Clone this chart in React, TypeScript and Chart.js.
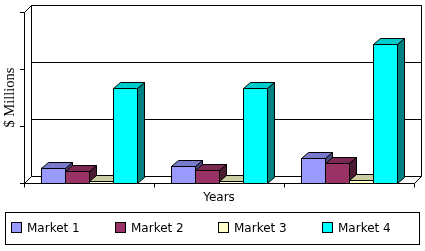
import React, { useEffect, useRef } from 'react';
import { Chart, registerables } from 'chart.js';

Chart.register(...registerables);

// ---- data ----
const categories = ['Year 1', 'Year 2', 'Year 3'];
const seriesNames = ['Market 1', 'Market 2', 'Market 3', 'Market 4'];
const market1 = [0.27, 0.29, 0.44];
const market2 = [0.21, 0.23, 0.35];
const market3 = [0.04, 0.04, 0.05];
const market4 = [1.66, 1.66, 2.44];
const yTicks = [0, 1, 2, 3];
const seriesColors = ['#9999FF', '#993366', '#FFFFCC', '#00FFFF'];
const yTitle = '$ Millions';
const xTitle = 'Years';

// ---- style constants ----
const WALL_D = 7;
const BAR_DX = 7;
const BAR_DY = 6;

function shade(hex: string, f: number): string {
  const n = parseInt(hex.slice(1), 16);
  const r = Math.round(((n >> 16) & 255) * f);
  const g = Math.round(((n >> 8) & 255) * f);
  const b = Math.round((n & 255) * f);
  return `rgb(${r},${g},${b})`;
}

const threeD = {
  id: 'threeD',
  beforeDatasetsDraw(chart: any) {
    const { ctx, chartArea: a, scales } = chart;
    const ys = scales.y;
    const L = Math.round(a.left);
    const R = Math.round(a.right);
    const T = Math.round(a.top);
    const B = Math.round(a.bottom);
    const W = WALL_D;
    ctx.save();
    ctx.lineWidth = 1;
    ctx.strokeStyle = '#000';
    ctx.fillStyle = '#fff';
    // back wall
    ctx.beginPath();
    ctx.rect(L + W + 0.5, T - W + 0.5, R - L, B - T);
    ctx.fill();
    ctx.stroke();
    // gridlines on back wall
    yTicks.forEach((v) => {
      const py = Math.round(ys.getPixelForValue(v)) - W;
      ctx.beginPath();
      ctx.moveTo(L + W + 0.5, py + 0.5);
      ctx.lineTo(R + W + 0.5, py + 0.5);
      ctx.stroke();
    });
    // floor
    ctx.beginPath();
    ctx.moveTo(L + 0.5, B + 0.5);
    ctx.lineTo(R + 0.5, B + 0.5);
    ctx.lineTo(R + W + 0.5, B - W + 0.5);
    ctx.lineTo(L + W + 0.5, B - W + 0.5);
    ctx.closePath();
    ctx.fill();
    ctx.stroke();
    // left top diagonal
    ctx.beginPath();
    ctx.moveTo(L + 0.5, T + 0.5);
    ctx.lineTo(L + W + 0.5, T - W + 0.5);
    ctx.stroke();
    ctx.restore();
  },
  afterDatasetsDraw(chart: any) {
    const { ctx, chartArea: a, scales } = chart;
    const ys = scales.y;
    const L = Math.round(a.left);
    const R = Math.round(a.right);
    const T = Math.round(a.top);
    const B = Math.round(a.bottom);
    ctx.save();
    ctx.lineWidth = 1;
    ctx.strokeStyle = '#000';
    const n = chart.data.labels.length;
    const nd = chart.data.datasets.length;
    for (let i = 0; i < n; i++) {
      for (let d = 0; d < nd; d++) {
        const el: any = chart.getDatasetMeta(d).data[i];
        const color = seriesColors[d];
        const l = Math.round(el.x - el.width / 2);
        const r = Math.round(el.x + el.width / 2);
        const t = Math.round(el.y);
        const b = Math.round(el.base);
        // side
        ctx.fillStyle = shade(color, 0.5);
        ctx.beginPath();
        ctx.moveTo(r + 0.5, t + 0.5);
        ctx.lineTo(r + BAR_DX + 0.5, t - BAR_DY + 0.5);
        ctx.lineTo(r + BAR_DX + 0.5, b - BAR_DY + 0.5);
        ctx.lineTo(r + 0.5, b + 0.5);
        ctx.closePath();
        ctx.fill();
        ctx.stroke();
        // top
        ctx.fillStyle = shade(color, 0.8);
        ctx.beginPath();
        ctx.moveTo(l + 0.5, t + 0.5);
        ctx.lineTo(r + 0.5, t + 0.5);
        ctx.lineTo(r + BAR_DX + 0.5, t - BAR_DY + 0.5);
        ctx.lineTo(l + BAR_DX + 0.5, t - BAR_DY + 0.5);
        ctx.closePath();
        ctx.fill();
        ctx.stroke();
        // front
        ctx.fillStyle = color;
        ctx.fillRect(l, t, r - l, b - t);
        ctx.strokeRect(l + 0.5, t + 0.5, r - l, b - t);
      }
    }
    // front axes
    ctx.beginPath();
    ctx.moveTo(L + 0.5, T + 0.5);
    ctx.lineTo(L + 0.5, B + 0.5);
    ctx.lineTo(R + 0.5, B + 0.5);
    ctx.stroke();
    // y ticks
    yTicks.forEach((v) => {
      const py = Math.round(ys.getPixelForValue(v));
      ctx.beginPath();
      ctx.moveTo(L - 4, py + 0.5);
      ctx.lineTo(L + 0.5, py + 0.5);
      ctx.stroke();
    });
    // category ticks
    for (let i = 0; i <= n; i++) {
      const px = Math.round(L + ((R - L) * i) / n);
      ctx.beginPath();
      ctx.moveTo(px + 0.5, B + 0.5);
      ctx.lineTo(px + 0.5, B + 4.5);
      ctx.stroke();
    }
    ctx.restore();
  },
  afterDraw(chart: any) {
    const { ctx, width } = chart;
    ctx.save();
    const fl = 5, ft = 212, fr = width - 6, fb = 244;
    ctx.lineWidth = 1;
    ctx.strokeStyle = '#000';
    ctx.strokeRect(fl + 0.5, ft + 0.5, fr - fl, fb - ft);
    const step = (fr - fl) / seriesNames.length;
    const cy = Math.round((ft + fb) / 2);
    ctx.font = '12px "DejaVu Sans"';
    ctx.textBaseline = 'middle';
    ctx.textAlign = 'left';
    seriesNames.forEach((name, i) => {
      const x0 = Math.round(fl + 6 + i * step);
      ctx.fillStyle = seriesColors[i];
      ctx.fillRect(x0, cy - 6, 10, 10);
      ctx.strokeRect(x0 + 0.5, cy - 6 + 0.5, 10, 10);
      ctx.fillStyle = '#000';
      ctx.fillText(name, x0 + 16, cy + 0.5);
    });
    ctx.restore();
  },
};

export default function App() {
  const ref = useRef<HTMLCanvasElement>(null);
  useEffect(() => {
    if (!ref.current) return;
    const seriesData = [market1, market2, market3, market4];
    const chart = new Chart(ref.current, {
      type: 'bar',
      data: {
        labels: categories,
        datasets: seriesNames.map((name, i) => ({
          label: name,
          data: seriesData[i],
          backgroundColor: seriesColors[i],
          borderColor: '#000',
          borderWidth: 1,
          borderSkipped: false,
          categoryPercentage: 96 / 130,
          barPercentage: 1,
        })),
      },
      options: {
        responsive: false,
        animation: false,
        layout: { padding: { left: 0, top: 12, right: 11, bottom: 46 } },
        plugins: { legend: { display: false }, tooltip: { enabled: false } },
        scales: {
          x: {
            grid: { display: false },
            border: { display: false },
            ticks: { display: false },
            title: {
              display: true,
              text: xTitle,
              color: '#000',
              font: { family: '"DejaVu Sans"', size: 12 },
              padding: 0,
            },
            afterFit: (s: any) => {
              s.height = 22;
            },
          },
          y: {
            min: yTicks[0],
            max: yTicks[yTicks.length - 1],
            afterBuildTicks: (s: any) => {
              s.ticks = yTicks.map((v) => ({ value: v }));
            },
            grid: { display: false },
            border: { display: false },
            ticks: { display: false },
            title: {
              display: true,
              text: yTitle,
              color: '#000',
              font: { family: '"Liberation Serif"', size: 14.5 },
              padding: { top: 1, bottom: 0 },
            },
            afterFit: (s: any) => {
              s.width = 24;
            },
          },
        },
      },
      plugins: [threeD],
    });
    return () => chart.destroy();
  }, []);
  return (
    <div style={{ position: 'fixed', left: 0, top: 0, width: 425, height: 251, background: '#fff' }}>
      <canvas ref={ref} width={425} height={251} style={{ display: 'block' }} />
    </div>
  );
}
